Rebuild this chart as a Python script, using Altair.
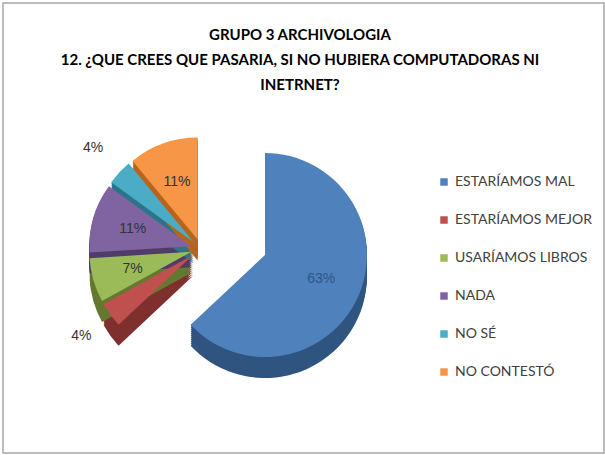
import altair as alt
import pandas as pd

# Survey answers and their shares (percent)
categories = ["ESTARÍAMOS MAL", "ESTARÍAMOS MEJOR", "USARÍAMOS LIBROS",
              "NADA", "NO SÉ", "NO CONTESTÓ"]
values = [63, 4, 7, 11, 4, 11]

top_colors = ["#4f81bd", "#c0504d", "#9bbb59", "#8064a2", "#4bacc6", "#f79646"]
side_colors = ["#2f5480", "#7f302e", "#63792f", "#4f3c68", "#2b7489", "#b8641c"]

title_lines = ["GRUPO 3 ARCHIVOLOGIA",
               "12. ¿QUE CREES QUE PASARIA, SI NO HUBIERA COMPUTADORAS NI",
               "INETRNET?"]

df = pd.DataFrame({"categoria": categories, "valor": values,
                   "orden": list(range(len(categories)))})
df["etiqueta"] = [f"{v}%" for v in values]

R = 102      # pie radius (px)
DEPTH = 22   # thickness of the pie's side wall (px)

# Slice angles (radians, clockwise from 12 o'clock) and per-slice centres:
# the large slice sits on the right, the rest are pulled out to the left.
base = (
    alt.Chart(df)
    .transform_window(acum="sum(valor)", sort=[alt.SortField("orden")],
                      frame=[None, 0])
    .transform_joinaggregate(total="sum(valor)")
    .transform_calculate(
        t0="(datum.acum - datum.valor) / datum.total * 2 * PI",
        t1="datum.acum / datum.total * 2 * PI",
    )
    .transform_calculate(mid="(datum.t0 + datum.t1) / 2")
    .transform_calculate(
        cx="datum.orden == 0 ? 262 : 198 + 10 * sin(datum.mid)",
        cy="datum.orden == 0 ? 252 : 246 - 10 * cos(datum.mid)",
    )
)

# Side wall: stacked copies of each slice shifted downwards
side = (
    base.transform_calculate(dep=f"sequence(1, {DEPTH + 1}, 2)")
    .transform_flatten(["dep"])
    .transform_calculate(cyd="datum.cy + datum.dep")
    .mark_arc(radius=R)
    .encode(
        theta=alt.Theta("t0:Q", scale=None),
        theta2=alt.Theta2("t1:Q"),
        x=alt.X("cx:Q", scale=None, axis=None),
        y=alt.Y("cyd:Q", scale=None, axis=None),
        color=alt.Color("categoria:N",
                        scale=alt.Scale(domain=categories, range=side_colors),
                        legend=None),
    )
)

# Top face of each slice
top = base.mark_arc(radius=R).encode(
    theta=alt.Theta("t0:Q", scale=None),
    theta2=alt.Theta2("t1:Q"),
    x=alt.X("cx:Q", scale=None, axis=None),
    y=alt.Y("cy:Q", scale=None, axis=None),
    color=alt.Color(
        "categoria:N",
        scale=alt.Scale(domain=categories, range=top_colors),
        legend=alt.Legend(
            title=None, orient="none", legendX=434, legendY=172,
            symbolType="square", symbolSize=56, symbolStrokeWidth=0,
            labelFont="Lato", labelFontSize=14, labelColor="#404040",
            rowPadding=24, labelOffset=4,
        ),
    ),
)

# Percentage labels: small shares outside, the rest inside their slice
labels = (
    base.transform_calculate(
        lr=f"datum.valor < 5 ? {R + 36} : {0.6 * R}",
    )
    .transform_calculate(
        lx="datum.cx + datum.lr * sin(datum.mid)",
        ly="datum.cy - datum.lr * cos(datum.mid)",
        tono="datum.orden == 0 ? '#2d5687' : '#333333'",
    )
    .mark_text(font="Liberation Sans", fontSize=14)
    .encode(
        x=alt.X("lx:Q", scale=None, axis=None),
        y=alt.Y("ly:Q", scale=None, axis=None),
        text="etiqueta:N",
        color=alt.Color("tono:N", scale=None),
    )
)

title = (
    alt.Chart(pd.DataFrame({"k": [0]}))
    .mark_text(font="Lato", fontWeight="bold", fontSize=15, lineHeight=25,
               baseline="top", align="center", color="#000000")
    .encode(x=alt.value(297), y=alt.value(25), text=alt.value(title_lines))
)

chart = (
    alt.layer(side, top, labels, title)
    .resolve_scale(color="independent")
    .properties(width=601, height=450, autosize="none",
                padding={"left": 3, "top": 3, "right": 1, "bottom": 2},
                background="white")
    .configure_view(stroke="#a6a6a6", strokeWidth=1.5)
)

chart.save("out.html", embed_options={"renderer": "svg", "actions": False})
